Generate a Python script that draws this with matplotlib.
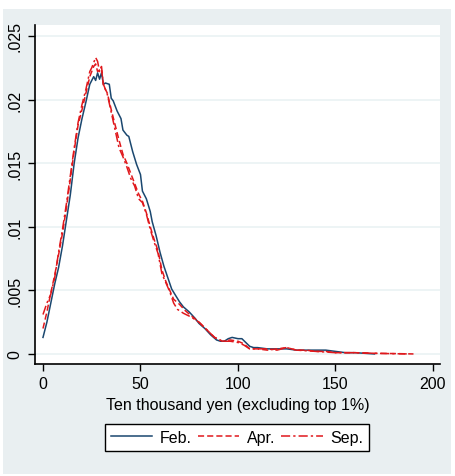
import matplotlib.pyplot as plt
from matplotlib.patches import Rectangle

plt.rcParams["font.family"] = ["Liberation Sans", "DejaVu Sans"]

feb_x = [0, 2, 4, 6, 8, 10, 12, 14, 16, 18, 20, 22, 24, 26, 27, 28, 29, 30, 31, 32,
         34, 35, 36, 38, 40, 41, 43, 44, 46, 48, 50, 51, 53, 55, 56, 58, 60, 62, 64,
         66, 68, 70, 72, 75, 78, 80, 83, 86, 89, 91, 93, 95, 97, 100, 102, 104, 106,
         108, 110, 115, 120, 125, 130, 135, 140, 145, 150, 155, 160, 165, 170]
feb_y = [0.0013, 0.0025, 0.0040, 0.0055, 0.0068, 0.0085, 0.0105, 0.0125, 0.0150,
         0.0170, 0.0185, 0.0198, 0.0212, 0.0218, 0.0215, 0.0221, 0.0216, 0.0221,
         0.0212, 0.0213, 0.0212, 0.0201, 0.0199, 0.0191, 0.0185, 0.0176, 0.0172,
         0.0171, 0.0159, 0.0149, 0.0141, 0.0128, 0.0122, 0.0112, 0.0104, 0.0093,
         0.0080, 0.0069, 0.0060, 0.0051, 0.0046, 0.0041, 0.0037, 0.0033, 0.0028,
         0.0024, 0.0020, 0.0015, 0.0011, 0.0010, 0.0010, 0.0012, 0.0013, 0.0012,
         0.0012, 0.0009, 0.0006, 0.0005, 0.0005, 0.0004, 0.0004, 0.0004, 0.0003,
         0.0003, 0.0003, 0.0003, 0.0002, 0.0001, 0.0001, 0.00005, 0.0]

apr_x = [0, 2, 4, 6, 8, 10, 12, 14, 16, 18, 20, 22, 24, 26, 27, 28, 30, 31, 33, 35,
         37, 39, 41, 43, 45, 47, 49, 51, 53, 55, 57, 59, 61, 63, 65, 67, 70, 73, 76,
         80, 84, 88, 92, 96, 100, 103, 106, 110, 115, 120, 125, 130, 135, 140, 145,
         150, 160, 170, 180, 190]
apr_y = [0.0020, 0.0033, 0.0048, 0.0062, 0.0078, 0.0095, 0.0115, 0.0137, 0.0160,
         0.0180, 0.0192, 0.0205, 0.0218, 0.0226, 0.0228, 0.0222, 0.0224, 0.0211,
         0.0205, 0.0192, 0.0180, 0.0168, 0.0157, 0.0150, 0.0142, 0.0134, 0.0126,
         0.0120, 0.0111, 0.0100, 0.0090, 0.0081, 0.0066, 0.0057, 0.0050, 0.0043,
         0.0039, 0.0034, 0.0030, 0.0025, 0.0019, 0.0013, 0.0010, 0.0011, 0.0010,
         0.0008, 0.0004, 0.0004, 0.0003, 0.0004, 0.0005, 0.0003, 0.0003, 0.0002,
         0.0002, 0.0001, 0.0001, 0.00005, 0.00003, 0.0]

sep_x = [0, 2, 4, 6, 8, 10, 12, 14, 16, 18, 20, 22, 24, 25, 27, 28, 29, 30, 31, 33,
         35, 37, 39, 41, 43, 45, 47, 49, 51, 53, 55, 57, 59, 61, 63, 65, 67, 69, 72,
         76, 80, 84, 88, 92, 96, 100, 103, 106, 110, 115, 120, 125, 130, 140, 150,
         160, 170, 180, 188]
sep_y = [0.0031, 0.0040, 0.0047, 0.0060, 0.0080, 0.0098, 0.0118, 0.0140, 0.0162,
         0.0182, 0.0196, 0.0208, 0.0222, 0.0225, 0.0233, 0.0230, 0.0222, 0.0226,
         0.0212, 0.0204, 0.0190, 0.0176, 0.0162, 0.0155, 0.0147, 0.0138, 0.0132,
         0.0122, 0.0119, 0.0110, 0.0098, 0.0088, 0.0079, 0.0063, 0.0056, 0.0049,
         0.0040, 0.0035, 0.0032, 0.0029, 0.0025, 0.0019, 0.0013, 0.0010, 0.0010,
         0.0009, 0.0007, 0.0004, 0.0004, 0.0004, 0.0003, 0.0005, 0.0003, 0.0002,
         0.0001, 0.0001, 0.00005, 0.00002, 0.0]

y_ticks = [0, 0.005, 0.01, 0.015, 0.02, 0.025]
y_labels = ["0", ".005", ".01", ".015", ".02", ".025"]
x_ticks = [0, 50, 100, 150, 200]

bg = "#e9eff1"
fig = plt.figure(figsize=(4.55, 4.77), dpi=100)
fig.patches.append(Rectangle((3/455, 2/477), 448/455, 465/477, transform=fig.transFigure,
                             facecolor=bg, edgecolor="none", zorder=-10))

ax = fig.add_axes([35/455, 1 - 365/477, 405/455, 339/477])
ax.set_facecolor("white")
l1, = ax.plot(feb_x, feb_y, color="#1a476f", lw=1.1, ls="-")
l2, = ax.plot(apr_x, apr_y, color="#e0181c", lw=1.1, ls=(0, (4, 2)))
l3, = ax.plot(sep_x, sep_y, color="#e0181c", lw=1.1, ls=(0, (6, 2, 1.5, 2)))

ax.set_xlim(-4.1, 203.6)
ax.set_ylim(-0.00079, 0.02586)
ax.set_yticks(y_ticks)
ax.set_yticklabels(y_labels, rotation=90, va="center")
ax.set_xticks(x_ticks)
ax.tick_params(labelsize=11.5, length=5, width=1, colors="black", pad=4)
ax.grid(axis="y", color="#eaf2f3", lw=1.2)
ax.set_axisbelow(True)
for s in ["top", "right"]:
    ax.spines[s].set_visible(False)
for s in ["left", "bottom"]:
    ax.spines[s].set_linewidth(1.2)
ax.set_xlabel("Ten thousand yen (excluding top 1%)", fontsize=11.5, labelpad=4)

leg = fig.legend([l1, l2, l3], ["Feb.", "Apr.", "Sep."], loc="center",
                 bbox_to_anchor=(237/455, 1 - 438.5/477), ncol=3, fontsize=11.5,
                 frameon=True, fancybox=False, edgecolor="black", framealpha=1,
                 handlelength=2.6, columnspacing=0.4, handletextpad=0.45,
                 borderpad=0.35, borderaxespad=0)
leg.get_frame().set_linewidth(1.0)

fig.savefig("out.png", dpi=100, facecolor="white")
